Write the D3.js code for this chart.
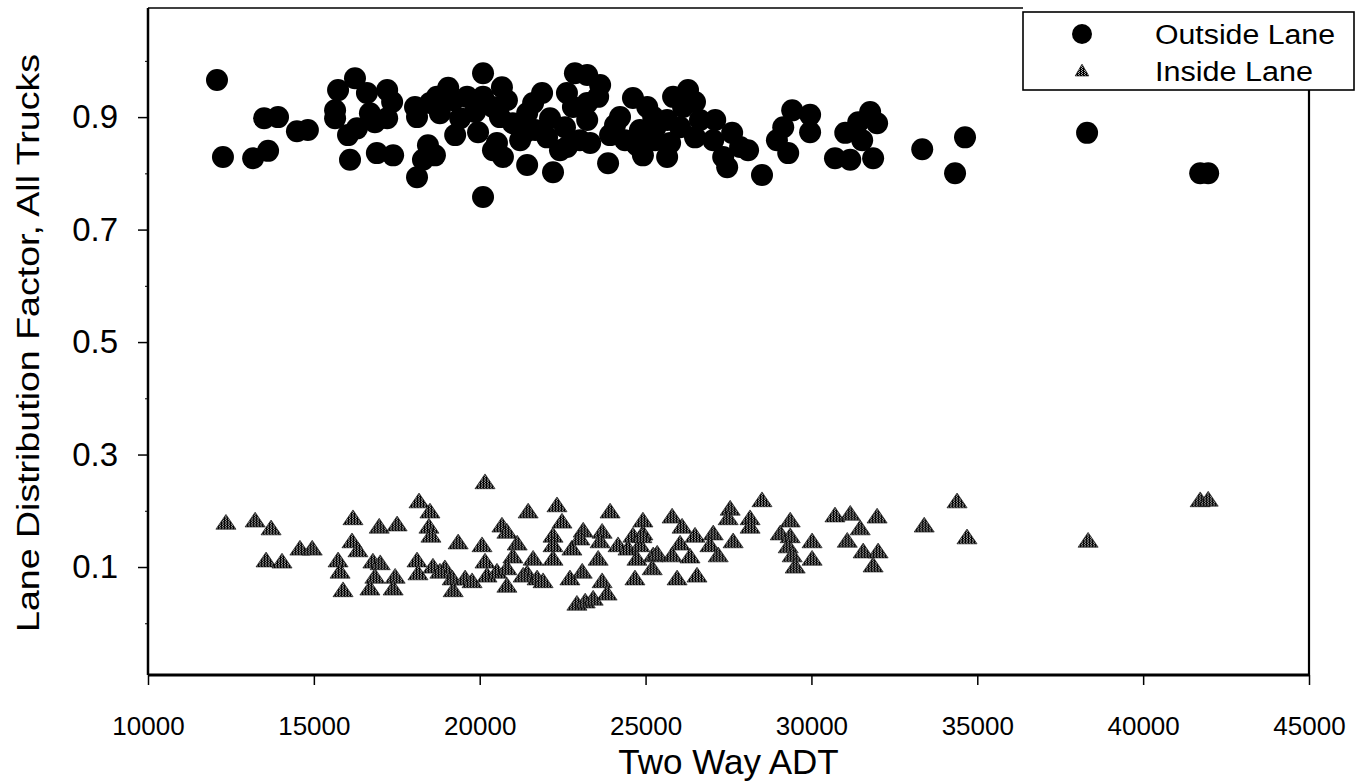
<!DOCTYPE html>
<html><head><meta charset="utf-8">
<script src="https://cdn.jsdelivr.net/npm/d3@7"></script>
<style>body{margin:0;background:#fff}svg{display:block}</style>
</head><body>
<svg id="chart" width="1360" height="781"></svg>
<script>
// ---- data ----
const seriesNames = ["Outside Lane", "Inside Lane"];
const xTitle = "Two Way ADT";
const yTitle = "Lane Distribution Factor, All Trucks";
const xTicks = [10000, 15000, 20000, 25000, 30000, 35000, 40000, 45000];
const yTicks = [0.1, 0.3, 0.5, 0.7, 0.9];
const yMinorTicks = [0.0, 0.2, 0.4, 0.6, 0.8, 1.0];

const outsideADT = [12080,12260,13170,13620,13500,13920,14490,14820,15730,16240,15640,15640,16030,16300,16090,16900,17390,16600,16690,17210,17360,17210,16840,18050,18110,18500,18710,19050,19200,18800,19620,19260,18440,18650,18290,18110,20100,19950,20100,20100,20400,20670,20820,20610,20520,20700,20400,21000,21430,21610,21880,21430,22120,22030,22630,22870,22810,22570,22630,22210,23020,23240,23630,23570,23240,23240,23330,23870,24230,24620,25050,24830,24740,24920,25230,25650,25830,26280,26490,26130,26040,25740,25650,26490,27100,27040,27610,27340,27460,28090,27850,28510,28960,29150,29420,29960,29960,29300,31770,31980,31410,31020,31530,30710,31170,31860,33340,34630,34330,38310,41720,41960,21220,21670,19860,24380,25290,23930,19410,21370,22420,24080,25290,26640];
const outsideLDF = [0.966,0.829,0.827,0.840,0.898,0.900,0.875,0.877,0.948,0.969,0.912,0.898,0.868,0.880,0.824,0.836,0.832,0.943,0.907,0.948,0.927,0.898,0.891,0.918,0.900,0.925,0.936,0.952,0.930,0.907,0.936,0.868,0.850,0.832,0.824,0.793,0.978,0.873,0.758,0.936,0.918,0.953,0.930,0.900,0.854,0.829,0.841,0.889,0.907,0.925,0.943,0.815,0.898,0.864,0.943,0.978,0.918,0.882,0.847,0.802,0.859,0.975,0.957,0.936,0.925,0.895,0.854,0.818,0.900,0.934,0.918,0.877,0.850,0.832,0.900,0.895,0.936,0.948,0.927,0.918,0.882,0.854,0.829,0.864,0.895,0.859,0.872,0.829,0.811,0.841,0.847,0.797,0.859,0.882,0.912,0.904,0.873,0.836,0.909,0.889,0.891,0.872,0.859,0.827,0.824,0.827,0.843,0.864,0.800,0.872,0.800,0.800,0.859,0.877,0.909,0.859,0.859,0.868,0.898,0.873,0.841,0.886,0.880,0.895];

const insideADT = [12350,13230,13710,13560,14040,14580,14950,15730,15790,15880,16180,16150,16330,16780,17000,16840,16690,17450,17390,16970,17510,18170,18500,18470,18530,19350,20070,20160,18110,18140,18590,18950,19170,19200,19560,19770,20160,20220,20520,20670,20820,21130,21000,20820,20820,21430,21730,21910,21460,22330,22480,22210,22210,22210,22780,22720,23090,23120,23020,23690,23630,23570,23690,23930,24170,24470,24620,24680,23840,22930,23180,23420,21610,21310,24920,24920,24830,24740,25230,25200,25800,26100,26040,25800,25950,26490,26340,26550,27040,26940,27190,27550,27490,27640,28150,28150,28510,29360,29060,29360,29300,29420,29510,30020,30020,30710,31170,31980,31470,31080,31560,32010,31860,34390,33400,34690,38340,41720,41960,18800,24890,25350];
const insideLDF = [0.176,0.180,0.166,0.109,0.107,0.130,0.130,0.109,0.089,0.056,0.184,0.143,0.127,0.107,0.104,0.080,0.059,0.080,0.059,0.169,0.173,0.214,0.196,0.169,0.153,0.141,0.136,0.248,0.109,0.086,0.098,0.095,0.077,0.056,0.077,0.072,0.107,0.082,0.089,0.171,0.160,0.139,0.116,0.095,0.064,0.086,0.077,0.072,0.196,0.207,0.178,0.153,0.136,0.112,0.130,0.077,0.089,0.162,0.148,0.160,0.143,0.112,0.072,0.196,0.136,0.130,0.153,0.077,0.050,0.032,0.036,0.041,0.112,0.082,0.180,0.157,0.136,0.112,0.118,0.095,0.187,0.169,0.139,0.118,0.077,0.153,0.116,0.082,0.157,0.136,0.118,0.201,0.184,0.143,0.184,0.169,0.216,0.180,0.157,0.152,0.134,0.118,0.098,0.143,0.112,0.189,0.192,0.187,0.166,0.144,0.125,0.125,0.100,0.214,0.171,0.150,0.144,0.216,0.217,0.089,0.152,0.121];

// ---- chart ----
const svg = d3.select("#chart");
const FONT = "'Liberation Sans', Arial, Helvetica, sans-serif";
const x = d3.scaleLinear().domain([10000, 45000]).range([148, 1309]);
const y = d3.scaleLinear().domain([-0.092, 1.094]).range([675, 8]);

const defs = svg.append("defs");
const pat = defs.append("pattern").attr("id", "stip")
  .attr("patternUnits", "userSpaceOnUse").attr("width", 3).attr("height", 2);
pat.append("rect").attr("width", 3).attr("height", 2).attr("fill", "#aaa");
pat.append("rect").attr("x", 0).attr("y", 0).attr("width", 2).attr("height", 1).attr("fill", "#000");
pat.append("rect").attr("x", 1).attr("y", 1).attr("width", 2).attr("height", 1).attr("fill", "#000");

const outside = outsideADT.map((a, i) => ({adt: a, ldf: outsideLDF[i]}));
const inside = insideADT.map((a, i) => ({adt: a, ldf: insideLDF[i]}));

const tri = d3.symbol().type(d3.symbolTriangle).size(175);
const triSmall = d3.symbol().type(d3.symbolTriangle).size(80);

// inside lane triangles
svg.append("g").selectAll("path").data(inside).join("path")
  .attr("d", tri)
  .attr("transform", d => `translate(${x(d.adt)},${y(d.ldf)}) scale(1,0.85)`)
  .attr("fill", "url(#stip)")
  .attr("stroke", "#111").attr("stroke-width", 0.7);

// outside lane circles
svg.append("g").selectAll("circle").data(outside).join("circle")
  .attr("cx", d => x(d.adt)).attr("cy", d => y(d.ldf))
  .attr("r", 11).attr("fill", "#000");

// axes
const yAxis = d3.axisLeft(y).tickValues(yTicks).tickSize(10).tickPadding(20)
  .tickFormat(d3.format(".1f"));
const gy = svg.append("g").attr("transform", `translate(${x(10000)},0)`).call(yAxis);
gy.select(".domain").attr("stroke-width", 2.5).attr("d", `M0,${y(1.094)}V${y(-0.092)}`);
gy.selectAll(".tick line").attr("stroke-width", 1.5);
gy.selectAll("text").attr("font-family", FONT).attr("font-size", 33).attr("fill", "#000");

const gym = svg.append("g").attr("transform", `translate(${x(10000)},0)`)
  .call(d3.axisLeft(y).tickValues(yMinorTicks).tickSize(3).tickFormat(""));
gym.select(".domain").remove();

const xAxis = d3.axisBottom(x).tickValues(xTicks).tickSize(10).tickPadding(32)
  .tickFormat(d3.format("d"));
const gx = svg.append("g").attr("transform", `translate(0,${y(-0.092)})`).call(xAxis);
gx.select(".domain").attr("stroke-width", 3).attr("d", `M${x(10000)},0H${x(45000)}`);
gx.selectAll(".tick line").attr("stroke-width", 1.5);
gx.selectAll("text").attr("font-family", FONT).attr("font-size", 26).attr("fill", "#000");

// frame: top and right
const legendX = 1023, legendY = 12, legendW = 331, legendH = 78;
svg.append("line").attr("x1", x(10000)).attr("x2", legendX)
  .attr("y1", y(1.094)).attr("y2", y(1.094)).attr("stroke", "#000").attr("stroke-width", 1.6);
svg.append("line").attr("x1", x(45000)).attr("x2", x(45000))
  .attr("y1", legendY + legendH).attr("y2", y(-0.092)).attr("stroke", "#000").attr("stroke-width", 2.2);

// titles
svg.append("text").attr("x", (x(10000) + x(45000)) / 2).attr("y", 774).attr("text-anchor", "middle")
  .attr("font-family", FONT).attr("font-size", 35).text(xTitle);
svg.append("text").attr("transform", `translate(39,${343}) rotate(-90)`)
  .attr("text-anchor", "middle").attr("font-family", FONT).attr("font-size", 31)
  .attr("textLength", 578).attr("lengthAdjust", "spacingAndGlyphs").text(yTitle);

// legend
const lg = svg.append("g");
lg.append("rect").attr("x", legendX).attr("y", legendY).attr("width", legendW).attr("height", legendH)
  .attr("fill", "#fff").attr("stroke", "#000").attr("stroke-width", 1.6);
lg.append("circle").attr("cx", 1082).attr("cy", 34).attr("r", 10).attr("fill", "#000");
lg.append("path").attr("d", triSmall).attr("transform", "translate(1082,72)")
  .attr("fill", "url(#stip)").attr("stroke", "#111").attr("stroke-width", 0.7);
const legendLens = [180, 158];
lg.selectAll("text.lab").data(seriesNames).join("text").attr("class", "lab")
  .attr("x", 1155).attr("y", (d, i) => 44 + i * 37)
  .attr("font-family", FONT).attr("font-size", 27)
  .attr("textLength", (d, i) => legendLens[i]).attr("lengthAdjust", "spacingAndGlyphs")
  .text(d => d);
</script>
</body></html>
